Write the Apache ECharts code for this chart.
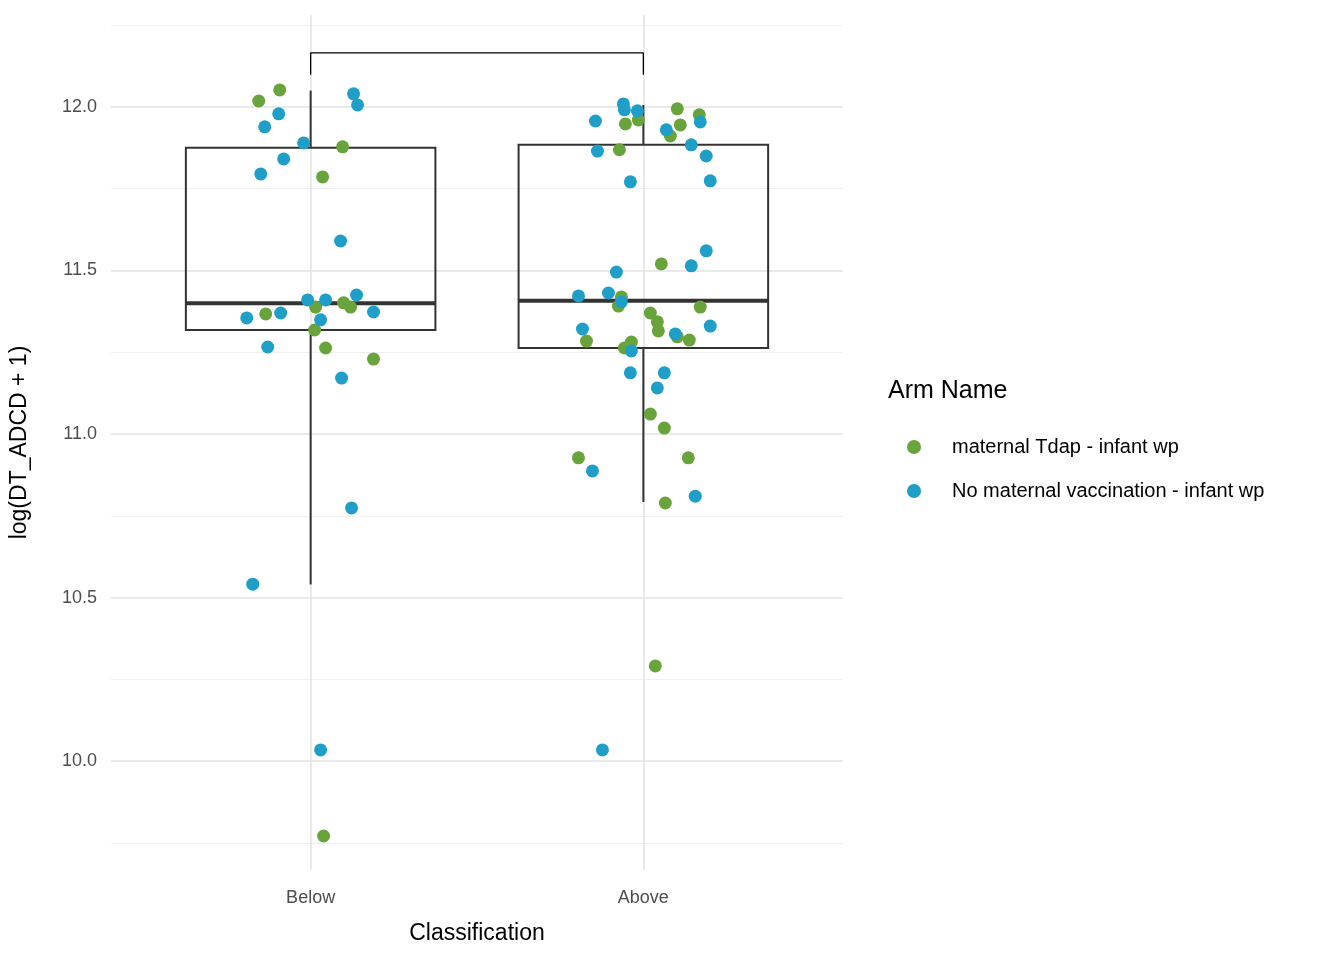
<!DOCTYPE html>
<html>
<head>
<meta charset="utf-8">
<script src="https://cdn.jsdelivr.net/npm/echarts@6/dist/echarts.min.js"></script>
<style>html,body{margin:0;padding:0;background:#fff}#chart{width:1344px;height:960px}</style>
</head>
<body>
<div id="chart"></div>
<script>
// categories and arm names
var categories = ['Below', 'Above'];
var armNames = ['maternal Tdap - infant wp', 'No maternal vaccination - infant wp'];
var yTicks = [10, 10.5, 11, 11.5, 12];

// box stats per category: [whiskerLow, q1, median, q3, whiskerHigh]
var boxStats = [
    [10.54, 11.318, 11.40, 11.875, 12.05],
    [10.792, 11.263, 11.407, 11.884, 12.006]
];

// jittered points [category position + jitter, value]
var tdapPoints = [
    [0.844, 12.018], [0.907, 12.052], [1.096, 11.878], [1.036, 11.786], [0.865, 11.367], [1.015, 11.388],
    [1.099, 11.401], [1.120, 11.388], [1.012, 11.318], [1.045, 11.263], [1.189, 11.229], [1.039, 9.771],
    [2.102, 11.994], [2.168, 11.976], [1.946, 11.948], [1.985, 11.960], [2.111, 11.945], [2.081, 11.911],
    [1.928, 11.869], [2.054, 11.520], [1.934, 11.419], [1.925, 11.391], [2.021, 11.370], [2.042, 11.343],
    [2.045, 11.315], [2.102, 11.297], [2.171, 11.388], [2.138, 11.287], [1.829, 11.284], [1.964, 11.281],
    [1.943, 11.263], [2.021, 11.061], [2.063, 11.018], [1.805, 10.927], [2.135, 10.927], [2.066, 10.789],
    [2.036, 10.291]
];
var noVacPoints = [
    [0.862, 11.939], [0.904, 11.979], [0.979, 11.890], [0.919, 11.841], [0.850, 11.795], [1.129, 12.040],
    [1.141, 12.006], [1.090, 11.590], [0.991, 11.410], [1.045, 11.410], [1.138, 11.425], [0.808, 11.355],
    [0.910, 11.370], [1.030, 11.349], [1.189, 11.373], [0.871, 11.266], [1.093, 11.171], [1.123, 10.774],
    [0.826, 10.541], [1.030, 10.034],
    [1.940, 12.009], [1.943, 11.991], [1.982, 11.988], [1.856, 11.957], [2.069, 11.930], [2.171, 11.954],
    [1.862, 11.865], [2.144, 11.884], [2.189, 11.850], [1.961, 11.771], [2.201, 11.774], [2.189, 11.560],
    [2.144, 11.514], [1.919, 11.495], [1.805, 11.422], [1.895, 11.431], [1.934, 11.404], [1.817, 11.321],
    [2.096, 11.306], [2.201, 11.330], [1.964, 11.254], [1.961, 11.187], [2.063, 11.187], [2.042, 11.141],
    [1.847, 10.887], [2.156, 10.810], [1.877, 10.034]
];

// comparison bracket
var bracket = [[1, 12.098], [1, 12.165], [2, 12.165], [2, 12.098]];

var majorLines = [10, 10.5, 11, 11.5, 12];
var minorLines = [9.75, 10.25, 10.75, 11.25, 11.75, 12.25];

var boxHalf = 0.375;
var chart = echarts.init(document.getElementById('chart'));

var gridMarks = [];
minorLines.forEach(function (v) { gridMarks.push({ yAxis: v, lineStyle: { color: '#f0f0f0', width: 1, type: 'solid' } }); });
majorLines.forEach(function (v) { gridMarks.push({ yAxis: v, lineStyle: { color: '#e3e3e3', width: 1.5, type: 'solid' } }); });
[1, 2].forEach(function (v) { gridMarks.push({ xAxis: v, lineStyle: { color: '#e3e3e3', width: 1.5, type: 'solid' } }); });

chart.setOption({
    animation: false,
    textStyle: { fontFamily: 'Liberation Sans, Arial, sans-serif' },
    grid: { left: 108, right: 501, top: 15, bottom: 90 },
    xAxis: {
        type: 'value', min: 0.4, max: 2.6,
        splitLine: { show: false }, axisLine: { show: false }, axisTick: { show: false },
        axisLabel: {
            customValues: [1, 2], color: '#4d4d4d', fontSize: 18, margin: 19,
            formatter: function (v) { return categories[Math.round(v) - 1] || ''; }
        },
        name: 'Classification', nameLocation: 'middle', nameGap: 52,
        nameTextStyle: { color: '#000', fontSize: 23 }
    },
    yAxis: {
        type: 'value', min: 9.667, max: 12.281,
        splitLine: { show: false }, axisLine: { show: false }, axisTick: { show: false },
        axisLabel: {
            customValues: yTicks, color: '#4d4d4d', fontSize: 18, margin: 14,
            formatter: function (v) { return v.toFixed(1); }
        },
        name: 'log(DT_ADCD + 1)', nameLocation: 'middle', nameGap: 80,
        nameTextStyle: { color: '#000', fontSize: 23 }
    },
    legend: {
        orient: 'vertical', left: 902, top: 432, itemGap: 24,
        icon: 'circle', itemWidth: 14, itemHeight: 14,
        textStyle: { fontSize: 20, color: '#000', padding: [0, 0, 0, 26] },
        data: armNames
    },
    graphic: [{
        type: 'text', left: 888, top: 379,
        style: { text: 'Arm Name', fontSize: 25, fill: '#000', fontFamily: 'Liberation Sans, Arial, sans-serif' }
    }],
    series: [
        {
            type: 'line', data: [], silent: true, z: 0, zlevel: 0,
            markLine: { symbol: 'none', silent: true, z: 0, label: { show: false }, data: gridMarks }
        },
        {
            type: 'custom', silent: true, z: 3,
            data: boxStats.map(function (s, i) { return [i + 1].concat(s); }),
            renderItem: function (params, api) {
                var x = api.value(0);
                var p = function (xx, yy) { return api.coord([xx, yy]); };
                var lo = p(x, api.value(1)), q1 = p(x - boxHalf, api.value(2)), md = api.value(3),
                    q3 = p(x + boxHalf, api.value(4)), hi = p(x, api.value(5));
                var bot = p(x, api.value(2)), top = p(x, api.value(4));
                var mL = p(x - boxHalf, md), mR = p(x + boxHalf, md);
                var st = { stroke: '#333', lineWidth: 2, fill: null };
                return {
                    type: 'group', children: [
                        { type: 'line', shape: { x1: lo[0], y1: lo[1], x2: bot[0], y2: bot[1] }, style: st },
                        { type: 'line', shape: { x1: top[0], y1: top[1], x2: hi[0], y2: hi[1] }, style: st },
                        { type: 'rect', shape: { x: q1[0], y: q3[1], width: q3[0] - q1[0], height: q1[1] - q3[1] }, style: { stroke: '#333', lineWidth: 2, fill: 'none' } },
                        { type: 'line', shape: { x1: mL[0], y1: mL[1], x2: mR[0], y2: mR[1] }, style: { stroke: '#333', lineWidth: 4 } }
                    ]
                };
            }
        },
        {
            type: 'line', data: bracket, showSymbol: false, silent: true, z: 4,
            lineStyle: { color: '#000', width: 1.3 }
        },
        {
            name: armNames[0], type: 'scatter', data: tdapPoints, symbolSize: 13, z: 5,
            itemStyle: { color: '#69a33b', opacity: 1 }
        },
        {
            name: armNames[1], type: 'scatter', data: noVacPoints, symbolSize: 13, z: 5,
            itemStyle: { color: '#1f9fc8', opacity: 1 }
        }
    ]
});
</script>
</body>
</html>
